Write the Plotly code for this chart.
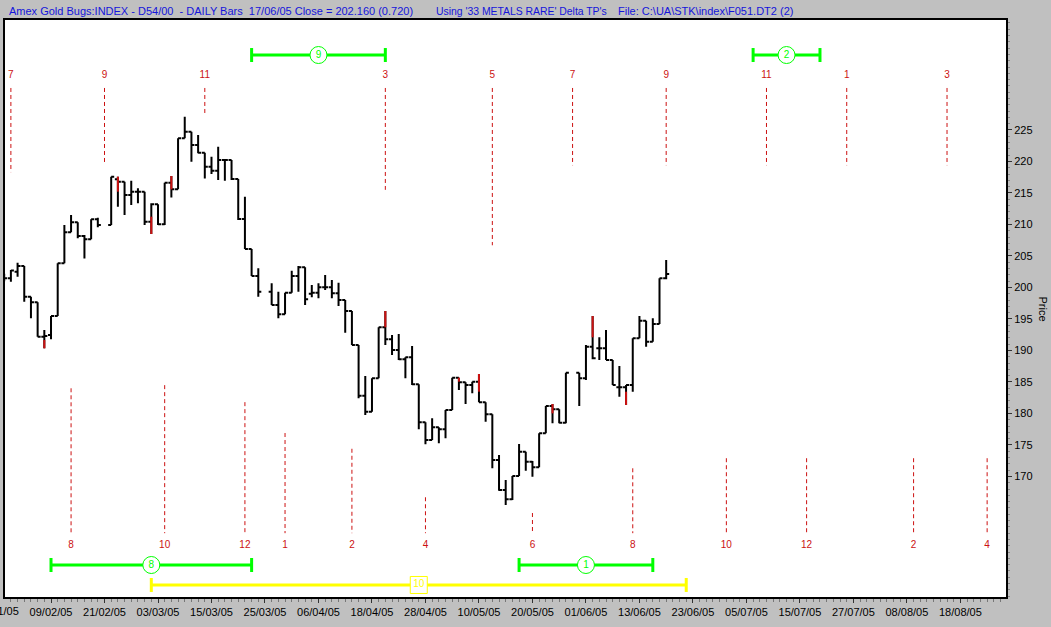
import numpy as np
import plotly.graph_objects as go

# ---------------- data ----------------
origin_day = "2005-01-28"          # weekday index 0 of the chart
first_bar = "2005-01-31"
last_bar = "2005-06-17"
holidays = ["2005-02-21", "2005-03-25", "2005-05-30"]

opens = [201.8, 201.45, 202.5, 203.41, 198.54, 197.64, 192.19, 192.46, 195.47, 203.83,
         208.75, 210.34, 208.17, 207.64, 210.82, 209.92, 217.2, 216.8, 214.68, 215.2,
         215.2, 210.45, 213.2, 210.02, 216.64, 215.58, 223.67, 224.73, 222.61, 221.4,
         219.18, 218.54, 220.23, 220.23, 217.22, 210.87, 206.1, 201.82, 199.34, 197.22,
         195.74, 199.18, 201.82, 203.2, 199.0, 199.18, 200.02, 200.02, 199.07, 198.01,
         196.27, 190.87, 182.83, 180.29, 185.58, 193.68, 191.77, 190.08, 188.6, 188.91,
         184.63, 178.6, 175.79, 177.8, 177.49, 180.55, 185.68, 184.95, 184.52, 185.05,
         181.77, 179.87, 172.62, 167.86, 166.37, 170.08, 173.94, 172.35, 171.46, 176.85,
         181.19, 180.66, 178.54, 186.48, 185.58, 190.6, 190.34, 190.34, 188.49, 184.15,
         184.15, 184.52, 191.93, 194.73, 191.4, 194.2, 201.45]
highs = [202.2, 202.77, 203.94, 203.41, 198.54, 197.64, 193.25, 195.47, 203.83, 209.92,
         211.5, 210.34, 208.33, 210.82, 211.08, 217.59, 217.59, 216.8, 216.95, 215.74,
         215.2, 213.36, 213.2, 216.64, 217.7, 223.67, 227.1, 224.73, 224.2, 221.4,
         220.76, 222.35, 220.23, 220.24, 217.22, 214.4, 206.1, 203.04, 200.66, 199.34,
         199.18, 202.67, 203.41, 203.2, 200.4, 200.66, 201.98, 201.19, 200.76, 198.01,
         196.27, 190.87, 185.95, 185.58, 193.68, 196.27, 192.46, 192.62, 188.91, 190.71,
         184.63, 178.6, 179.23, 177.8, 180.55, 185.68, 185.68, 184.95, 185.05, 186.27,
         181.77, 179.87, 173.41, 169.44, 170.08, 175.16, 173.94, 172.46, 176.85, 181.19,
         181.51, 180.66, 186.48, 186.48, 190.87, 195.47, 192.09, 193.25, 188.49, 187.54,
         184.52, 191.93, 195.47, 194.73, 195.1, 201.45, 204.36]
lows = [201.0, 200.92, 201.7, 197.75, 195.1, 192.19, 190.34, 191.77, 195.47, 203.83,
        208.75, 207.8, 204.62, 207.64, 209.55, 209.92, 212.83, 211.5, 213.09, 213.36,
        209.92, 208.49, 209.92, 209.92, 214.3, 215.58, 223.67, 219.97, 221.29, 217.32,
        218.01, 217.06, 216.95, 217.06, 210.71, 206.1, 201.82, 198.54, 197.22, 195.1,
        195.74, 199.18, 199.34, 197.22, 198.44, 198.28, 199.6, 198.28, 197.06, 192.83,
        190.87, 182.41, 179.76, 180.29, 185.58, 190.87, 189.28, 188.49, 185.58, 184.52,
        177.5, 175.1, 175.79, 175.26, 176.06, 180.55, 183.73, 181.51, 183.2, 181.77,
        178.7, 171.3, 167.75, 165.48, 166.27, 170.08, 170.92, 169.97, 171.46, 176.85,
        178.44, 178.44, 178.44, 181.19, 185.32, 188.6, 188.49, 188.49, 184.52, 182.67,
        181.35, 183.46, 191.93, 190.6, 191.4, 194.2, 201.29]
closes = [201.45, 202.7, 203.41, 198.54, 197.64, 192.19, 192.3, 195.47, 203.83, 208.75,
          210.34, 208.17, 207.64, 210.82, 209.92, 217.59, 216.8, 214.68, 215.2, 215.2,
          210.45, 213.2, 210.02, 216.64, 215.58, 223.67, 224.73, 222.61, 221.4, 219.18,
          218.54, 220.23, 220.23, 217.22, 210.87, 206.1, 201.82, 199.34, 197.22, 195.74,
          199.18, 201.82, 203.2, 198.12, 199.18, 200.02, 200.02, 199.07, 198.01, 196.27,
          190.87, 182.83, 180.29, 185.58, 193.68, 191.77, 190.08, 188.6, 188.91, 184.63,
          178.6, 175.79, 177.8, 177.49, 180.55, 185.68, 184.95, 184.52, 185.05, 181.77,
          179.87, 172.62, 167.86, 166.37, 170.08, 173.94, 172.35, 171.46, 176.85, 181.19,
          180.66, 178.54, 186.48, 185.58, 190.6, 188.76, 190.34, 188.49, 184.52, 184.15,
          184.52, 191.93, 194.73, 191.4, 194.2, 201.45, 202.16]

# red highlighted parts of pivot bars
red_dates = ["2005-02-08", "2005-02-23", "2005-03-02", "2005-03-07", "2005-04-20",
             "2005-05-05", "2005-05-10", "2005-05-25", "2005-06-02", "2005-06-09"]
red_top = [191.66, 217.59, 211.24, 217.7, 196.27, 185.68, 186.27, 181.51, 195.47, 183.46]
red_bot = [190.34, 215.21, 208.49, 215.58, 193.68, 185.05, 183.46, 180.02, 192.09, 181.35]

# turning-point cycle lines (top set)
top_dates = ["2005-02-01", "2005-02-21", "2005-03-14", "2005-04-20", "2005-05-12",
             "2005-05-30", "2005-06-17", "2005-07-08", "2005-07-26", "2005-08-16"]
top_labels = ["7", "9", "11", "3", "5", "7", "9", "11", "1", "3"]
top_end = [218.3, 219.8, 227.7, 215.5, 206.7, 219.4, 219.4, 219.4, 219.4, 219.4]

# turning-point cycle lines (bottom set)
bot_dates = ["2005-02-14", "2005-03-04", "2005-03-22", "2005-03-30", "2005-04-13",
             "2005-04-28", "2005-05-20", "2005-06-10", "2005-06-30", "2005-07-18",
             "2005-08-09", "2005-08-24"]
bot_labels = ["8", "10", "12", "1", "2", "4", "6", "8", "10", "12", "2", "4"]
bot_start = [184.0, 184.5, 181.8, 176.9, 174.4, 166.7, 164.2, 171.3, 172.9, 172.9, 172.9, 172.9]

# delta ranges (green / yellow bars)
top_ranges = [("2005-03-23", "2005-04-20", "9"), ("2005-07-06", "2005-07-20", "2")]
bot_ranges = [("2005-02-09", "2005-03-23", "8"), ("2005-05-18", "2005-06-15", "1")]
yel_ranges = [("2005-03-02", "2005-06-22", "10")]

tick_dates = ["2005-02-09", "2005-02-21", "2005-03-03", "2005-03-15", "2005-03-25",
              "2005-04-06", "2005-04-18", "2005-04-28", "2005-05-10", "2005-05-20",
              "2005-06-01", "2005-06-13", "2005-06-23", "2005-07-05", "2005-07-15",
              "2005-07-27", "2005-08-08", "2005-08-18"]
cut_tick_date = "2005-01-28"

y_ticks = [170, 175, 180, 185, 190, 195, 200, 205, 210, 215, 220, 225]

# ---------------- helpers ----------------
def widx(d):
    return int(np.busday_count(origin_day, np.datetime64(d)))

def lab(d):
    s = str(np.datetime64(d))
    return s[8:10] + "/" + s[5:7] + "/" + s[2:4]

days = np.arange(np.datetime64(first_bar), np.datetime64(last_bar) + 1, dtype="datetime64[D]")
days = days[np.is_busday(days, holidays=holidays)]
bar_x = [int(v) for v in np.busday_count(origin_day, days)]

# style constants
RED = "#cc1111"
GREEN = "#00ff00"
YELLOW = "#ffff00"
BLUE = "#1414dc"
TOP_LINE_START = 231.67
TOP_LABEL_Y = 233.7
BOT_LINE_END = 161.0
BOT_LABEL_Y = 159.1
TOP_ROW_Y = 236.9
BOT_ROW_Y = 155.95
YEL_ROW_Y = 152.78
X_MIN, X_MAX = 1.119, 150.82
FONT = "Liberation Sans, Arial, sans-serif"

fig = go.Figure()

fig.add_trace(go.Ohlc(
    x=bar_x, open=opens, high=highs, low=lows, close=closes,
    increasing=dict(line=dict(color="black", width=2)),
    decreasing=dict(line=dict(color="black", width=2)),
    tickwidth=0.45, hoverinfo="skip", showlegend=False))

# red pivot parts
rx, ry = [], []
for d, t, b in zip(red_dates, red_top, red_bot):
    i = widx(d)
    rx += [i, i, None]
    ry += [b, t, None]
fig.add_trace(go.Scatter(x=rx, y=ry, mode="lines", line=dict(color=RED, width=2),
                         hoverinfo="skip", showlegend=False))

# cycle lines
cx, cy = [], []
for d, e in zip(top_dates, top_end):
    i = widx(d)
    cx += [i, i, None]
    cy += [TOP_LINE_START, e, None]
for d, s in zip(bot_dates, bot_start):
    i = widx(d)
    cx += [i, i, None]
    cy += [s, BOT_LINE_END, None]
fig.add_trace(go.Scatter(x=cx, y=cy, mode="lines",
                         line=dict(color=RED, width=1, dash="4px,3px"),
                         hoverinfo="skip", showlegend=False))
fig.add_trace(go.Scatter(x=[widx(d) for d in top_dates], y=[TOP_LABEL_Y] * len(top_dates),
                         text=top_labels, mode="text",
                         textfont=dict(color=RED, size=10, family=FONT),
                         hoverinfo="skip", showlegend=False))
fig.add_trace(go.Scatter(x=[widx(d) for d in bot_dates], y=[BOT_LABEL_Y] * len(bot_dates),
                         text=bot_labels, mode="text",
                         textfont=dict(color=RED, size=10, family=FONT),
                         hoverinfo="skip", showlegend=False))

# range bars
def add_ranges(ranges, yv, color, symbol):
    for a, b, t in ranges:
        ia, ib = widx(a), widx(b)
        fig.add_trace(go.Scatter(x=[ia, ib], y=[yv, yv], mode="lines",
                                 line=dict(color=color, width=3),
                                 hoverinfo="skip", showlegend=False))
        fig.add_trace(go.Scatter(x=[ia, ib], y=[yv, yv], mode="markers",
                                 marker=dict(symbol="line-ns", size=10,
                                             line=dict(color=color, width=3)),
                                 hoverinfo="skip", showlegend=False))
        fig.add_trace(go.Scatter(x=[(ia + ib) / 2], y=[yv], mode="markers+text",
                                 text=[t], textposition="middle center",
                                 textfont=dict(color=color, size=10, family=FONT),
                                 marker=dict(symbol=symbol, size=17, color="white",
                                             line=dict(color=color, width=1)),
                                 hoverinfo="skip", showlegend=False))

add_ranges(top_ranges, TOP_ROW_Y, GREEN, "circle")
add_ranges(bot_ranges, BOT_ROW_Y, GREEN, "circle")
add_ranges(yel_ranges, YEL_ROW_Y, YELLOW, "square")

# pixel offset of the clipped first date label from the plot's left edge
plot_w = 1051 - 3 - 45
cut_shift = (widx(cut_tick_date) - X_MIN) / (X_MAX - X_MIN) * plot_w

fig.update_layout(
    width=1051, height=627,
    margin=dict(l=3, r=45, t=20, b=30),
    paper_bgcolor="#c0c0c0", plot_bgcolor="white",
    font=dict(family=FONT, size=11, color="black"),
    showlegend=False,
    xaxis=dict(range=[X_MIN, X_MAX], tickmode="array",
               tickvals=[widx(d) for d in tick_dates],
               ticktext=[lab(d) for d in tick_dates],
               ticks="outside", ticklen=4, tickcolor="#333",
               minor=dict(dtick=1, tick0=0, ticks="outside", ticklen=3, tickcolor="#777"),
               showgrid=False, zeroline=False, showline=True, linecolor="black",
               linewidth=2, mirror=True, rangeslider=dict(visible=False),
               tickfont=dict(size=11, color="black")),
    yaxis=dict(range=[150.87, 242.46], side="right", tickmode="array", tickvals=y_ticks,
               ticks="outside", ticklen=4, tickcolor="#333",
               minor=dict(dtick=1, tick0=0, ticks="outside", ticklen=2, tickcolor="#888"),
               showgrid=False, zeroline=False, showline=True, linecolor="black",
               linewidth=2, mirror=True, tickfont=dict(size=11, color="black")),
    annotations=[
        dict(text="Amex Gold Bugs:INDEX - D54/00  - DAILY Bars  17/06/05 Close = 202.160 (0.720)",
             xref="paper", yref="paper", x=0, y=1, xanchor="left", yanchor="middle",
             xshift=2, yshift=9, showarrow=False, font=dict(color=BLUE, size=11)),
        dict(text="Using '33 METALS RARE' Delta TP's",
             xref="paper", yref="paper", x=0, y=1, xanchor="left", yanchor="middle",
             xshift=429, yshift=9, showarrow=False, font=dict(color=BLUE, size=10.4)),
        dict(text="File: C:\\UA\\STK\\index\\F051.DT2 (2)",
             xref="paper", yref="paper", x=0, y=1, xanchor="left", yanchor="middle",
             xshift=611, yshift=9, showarrow=False, font=dict(color=BLUE, size=11)),
        dict(text="Price", xref="paper", yref="paper", x=1, y=0.5, xanchor="center",
             yanchor="middle", xshift=37, yshift=0, textangle=90, showarrow=False,
             font=dict(size=11, color="black")),
        dict(text=lab(cut_tick_date), xref="paper", yref="paper", x=0, y=0,
             xanchor="center", yanchor="top", xshift=cut_shift, yshift=-6,
             showarrow=False, font=dict(size=11, color="black")),
    ],
)

fig.write_html("out.html", config={"displayModeBar": False},
               post_script="document.body.style.margin='0';")
